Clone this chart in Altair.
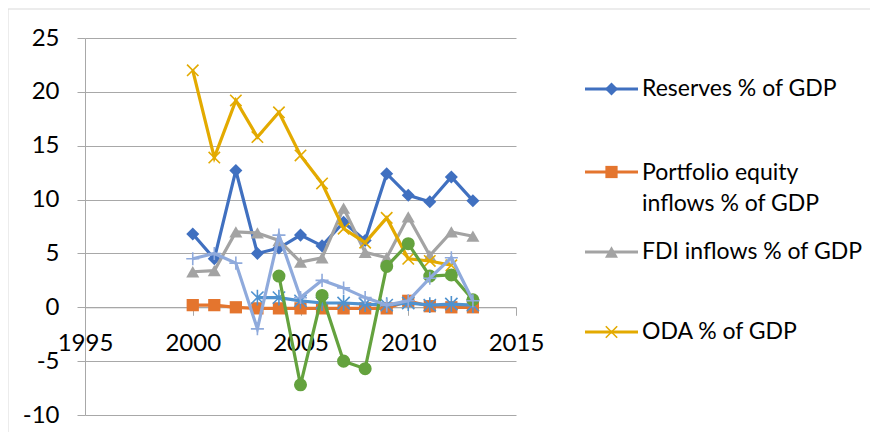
import altair as alt
import pandas as pd

years = list(range(2000, 2014))
reserves = [6.8, 4.5, 12.7, 5.0, 5.5, 6.7, 5.7, 7.9, 6.2, 12.4, 10.4, 9.8, 12.1, 9.9]
portfolio = [0.2, 0.2, 0.0, -0.1, -0.1, -0.1, -0.1, -0.1, -0.1, -0.1, 0.6, 0.1, 0.0, 0.0]
fdi = [3.3, 3.4, 7.0, 6.9, 6.2, 4.2, 4.6, 9.2, 5.1, 4.6, 8.4, 4.8, 7.0, 6.6]
oda = [22.0, 13.9, 19.2, 15.8, 18.1, 14.1, 11.5, 7.3, 6.0, 8.3, 4.5, 4.3, 3.9, None]
series5 = [None, None, None, 0.9, 0.9, 0.6, 0.4, 0.4, 0.3, 0.2, 0.4, 0.2, 0.3, 0.2]
series6 = [None, None, None, None, 2.9, -7.2, 1.1, -5.0, -5.7, 3.8, 5.9, 2.9, 3.0, 0.7]
series7 = [4.5, 5.0, 4.1, -2.0, 6.7, 0.9, 2.5, 1.8, 0.9, 0.2, 0.6, 2.7, 4.6, 0.6]

names = ["Reserves % of GDP", "Portfolio equity inflows % of GDP",
         "FDI inflows % of GDP", "ODA % of GDP", "Series5", "Series6", "Series7"]
values = [reserves, portfolio, fdi, oda, series5, series6, series7]
legend_labels = ["Reserves % of GDP", "Portfolio equity\ninflows % of GDP",
                 "FDI inflows % of GDP", "ODA % of GDP"]

# styles
colors = ["#4070C0", "#E4752E", "#A3A3A3", "#E3AA00", "#4F92CF", "#64A23E", "#8FAADC"]
X_PATH = "M-1,-1L1,1M-1,1L1,-1"
STAR_PATH = "M-1,-1L1,1M-1,1L1,-1M0,-1.3L0,1.3"
PLUS_PATH = "M-1,0L1,0M0,-1L0,1"
shapes = ["diamond", "square", "triangle-up", X_PATH, STAR_PATH, "circle", PLUS_PATH]
filled = [True, True, True, False, False, True, False]
sizes = [170, 150, 170, 130, 150, 170, 170]

W, H = 431, 377
YMIN, YMAX = -10, 25
FONT = "Lato"
FS = 24
LFS = 23

rows = []
for n, vals in zip(names, values):
    for yr, v in zip(years, vals):
        rows.append({"series": n, "year": yr, "value": v})
df = pd.DataFrame(rows)

xscale = alt.Scale(domain=[1995, 2015], nice=False, zero=False)
yscale = alt.Scale(domain=[YMIN, YMAX], nice=False, zero=False)
x_offset = -H * (0 - YMIN) / (YMAX - YMIN)

x_enc = alt.X("year:Q", scale=xscale, axis=alt.Axis(
    values=[1995, 2000, 2005, 2010, 2015], format="d", title=None, grid=False,
    offset=x_offset, domainColor="#A8A8A8", tickColor="#A8A8A8", tickSize=8,
    labelFont=FONT, labelFontSize=FS, labelColor="#000000", labelPadding=16,
    labelFlush=False, labelOverlap=False))
y_enc = alt.Y("value:Q", scale=yscale, axis=alt.Axis(
    values=list(range(-10, 26, 5)), title=None, grid=True, gridColor="#A8A8A8",
    domainColor="#A8A8A8", tickColor="#A8A8A8", tickSize=8,
    labelExpr="datum.value < 0 ? '-' + abs(datum.value) : '' + datum.value",
    labelFont=FONT, labelFontSize=FS, labelColor="#000000", labelPadding=18,
    labelFlush=False, labelOverlap=False))

layers = []
for i, n in enumerate(names):
    base = alt.Chart(df).transform_filter(alt.datum.series == n).transform_filter(
        "isValid(datum.value)")
    line = base.mark_line(color=colors[i], strokeWidth=3.2).encode(x=x_enc, y=y_enc)
    if filled[i]:
        pt = base.mark_point(shape=shapes[i], filled=True, fill=colors[i],
                             opacity=1, size=sizes[i]).encode(x="year:Q", y="value:Q")
    else:
        pt = base.mark_point(shape=shapes[i], filled=False, stroke=colors[i],
                             strokeWidth=1.6, opacity=1, size=sizes[i]).encode(x="year:Q", y="value:Q")
    layers += [line, pt]

# legend (manual, first four series)
leg_sym_y = [51, 134, 214, 294]
leg_txt_y = [51, 134.5, 214, 294]
leg = pd.DataFrame({"label": legend_labels, "sy": leg_sym_y, "ty": leg_txt_y,
                    "color": colors[:4]})
for i in range(4):
    d = leg.iloc[[i]]
    layers.append(alt.Chart(d).mark_rule(color=colors[i], strokeWidth=3.2).encode(
        x=alt.value(500), x2=alt.value(553), y=alt.Y("sy:Q", scale=None)))
    if filled[i]:
        layers.append(alt.Chart(d).mark_point(shape=shapes[i], filled=True, fill=colors[i],
                                              opacity=1, size=sizes[i]).encode(
            x=alt.value(526.5), y=alt.Y("sy:Q", scale=None)))
    else:
        layers.append(alt.Chart(d).mark_point(shape=shapes[i], filled=False, stroke=colors[i],
                                              strokeWidth=1.6, opacity=1, size=sizes[i]).encode(
            x=alt.value(526.5), y=alt.Y("sy:Q", scale=None)))
layers.append(alt.Chart(leg).mark_text(align="left", baseline="middle", font=FONT,
                                       fontSize=LFS, color="#000000", lineBreak="\n",
                                       lineHeight=31).encode(
    x=alt.value(557), y=alt.Y("ty:Q", scale=None), text="label:N"))

# chart border (left and top)
layers.append(alt.Chart(leg.iloc[[0]]).mark_rule(color="#D9D9D9", strokeWidth=1).encode(
    x=alt.value(-77), y=alt.value(-29), y2=alt.value(400)))
layers.append(alt.Chart(leg.iloc[[0]]).mark_rule(color="#D9D9D9", strokeWidth=1).encode(
    x=alt.value(-77), x2=alt.value(800), y=alt.value(-29)))

chart = alt.layer(*layers).properties(
    width=W, height=H,
    autosize=alt.AutoSizeParams(type="none"),
    padding={"left": 77, "top": 30, "right": 354, "bottom": 17},
    background="#FFFFFF",
).configure_view(stroke=None)

chart.save("out.html", embed_options={"renderer": "svg", "actions": False})
